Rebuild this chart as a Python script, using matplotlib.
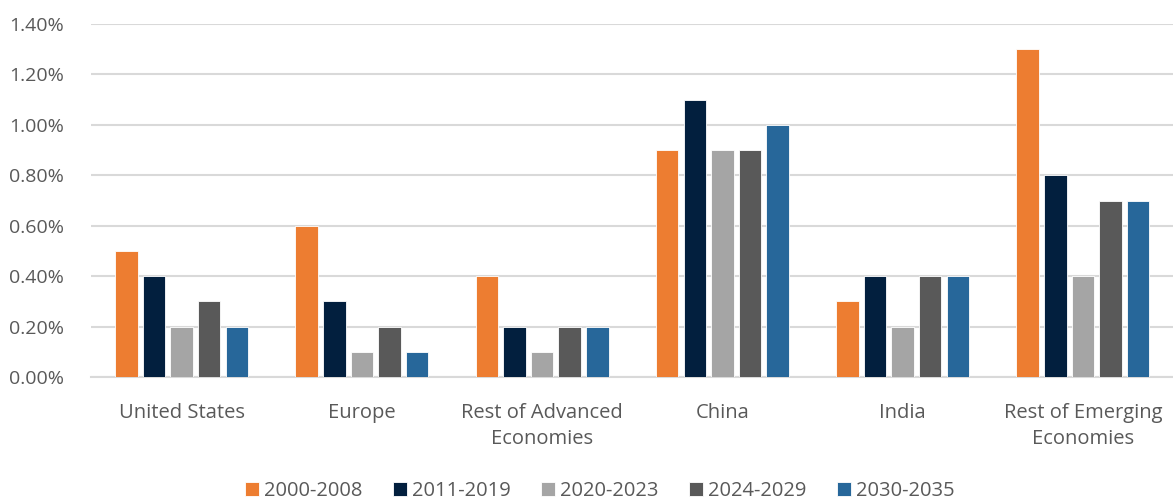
import matplotlib

matplotlib.use("Agg")
import matplotlib.pyplot as plt
import numpy as np
from matplotlib.ticker import FuncFormatter

regions = ["United States", "Europe", "Rest of Advanced\nEconomies", "China",
           "India", "Rest of Emerging\nEconomies"]
periods = ["2000-2008", "2011-2019", "2020-2023", "2024-2029", "2030-2035"]
values = {
    "2000-2008": [0.5, 0.6, 0.4, 0.9, 0.3, 1.3],
    "2011-2019": [0.4, 0.3, 0.2, 1.1, 0.4, 0.8],
    "2020-2023": [0.2, 0.1, 0.1, 0.9, 0.2, 0.4],
    "2024-2029": [0.3, 0.2, 0.2, 0.9, 0.4, 0.7],
    "2030-2035": [0.2, 0.1, 0.2, 1.0, 0.4, 0.7],
}
colors = ["#ED7D31", "#021F3E", "#A5A5A5", "#595959", "#27679A"]

plt.rcParams["font.family"] = ["Open Sans", "DejaVu Sans"]

fig = plt.figure(figsize=(11.73, 5.0), dpi=100)
ax = fig.add_axes([0.078, 0.246, 0.922, 0.706])

x = np.arange(len(regions))
step, width = 0.153, 0.125
for i, (p, c) in enumerate(zip(periods, colors)):
    ax.bar(x + (i - 2) * step, values[p], width, color=c, label=p,
           edgecolor="white", linewidth=0.6, zorder=3)

ax.set_xlim(-0.5, len(regions) - 0.5)
ax.set_ylim(0, 1.4)
ax.set_yticks(np.arange(0, 1.41, 0.2))
ax.yaxis.set_major_formatter(FuncFormatter(lambda v, _: f"{v:.2f}%"))
ax.set_xticks(x)
ax.set_xticklabels(regions, linespacing=1.4)
ax.tick_params(axis="x", length=0, labelsize=14.5, colors="#595959", pad=19)
ax.tick_params(axis="y", length=0, labelsize=14, colors="#595959", pad=20)
ax.grid(axis="y", color="#D9D9D9", linewidth=1.5, zorder=0)
for side in ("left", "right", "top"):
    ax.spines[side].set_visible(False)
ax.spines["bottom"].set_color("#D9D9D9")
ax.spines["bottom"].set_linewidth(1.5)

ax.legend(loc="center", bbox_to_anchor=(0.47, -0.322), ncol=5, frameon=False,
          fontsize=14.5, labelcolor="#595959", handlelength=0.7, handleheight=0.7,
          handletextpad=0.25, columnspacing=1.5)

fig.savefig("out.png", dpi=100)
